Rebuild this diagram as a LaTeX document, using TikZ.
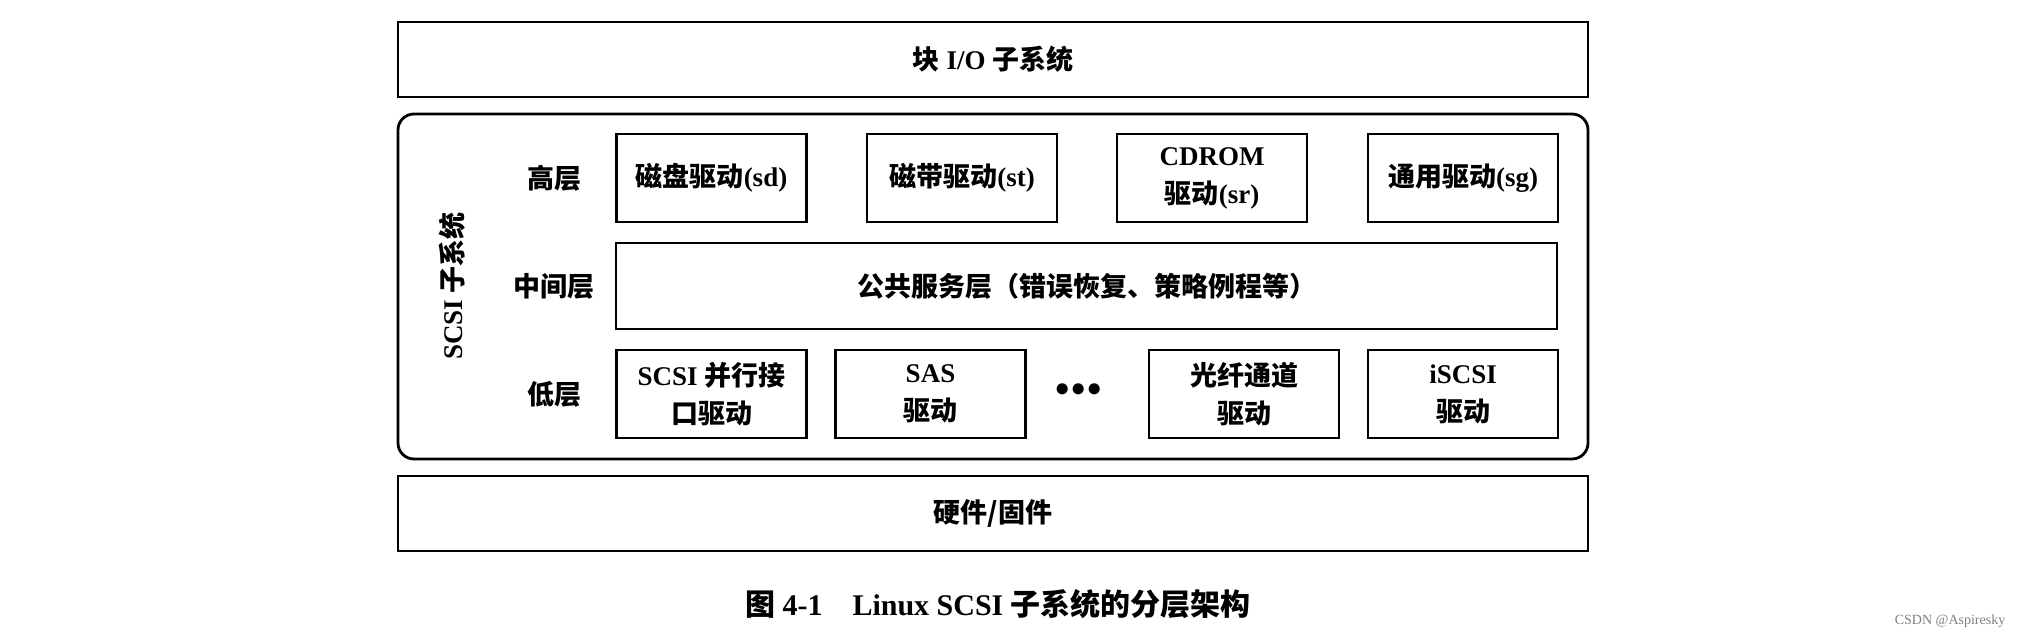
\documentclass[tikz,border=0pt]{standalone}
\usepackage{fontspec}
\setmainfont{Liberation Serif}
\newfontfamily\cjk{Noto Sans CJK SC}
\newcommand{\zh}[1]{{\cjk\bfseries #1}}
\begin{document}
\begin{tikzpicture}[x=0.5pt,y=-0.5pt,
  box/.style={draw=black,line width=1.4pt,inner sep=0pt,align=center,font=\fontsize{13.5}{19}\selectfont\bfseries},
  lbl/.style={font=\fontsize{13.5}{16}\selectfont\bfseries}]
\useasboundingbox (0,0) rectangle (2038,640);
\node[box,minimum width=1190*0.5pt,minimum height=75*0.5pt] (io) at (993,59.5) {\zh{块} I/O \zh{子系统}};
\node[draw=black,line width=1.4pt,rounded corners=8pt,minimum width=1190*0.5pt,minimum height=345*0.5pt,inner sep=0pt] (scsi) at (993,286.5) {};
\node[box,minimum width=1190*0.5pt,minimum height=75*0.5pt] (hw) at (993,513.5) {\zh{硬件/固件}};
\tikzset{sb/.style={box,minimum width=190*0.5pt,minimum height=88*0.5pt}}
\node[sb] (sd) at (711.5,178) {\zh{磁盘驱动}(sd)};
\node[sb] (st) at (962,178) {\zh{磁带驱动}(st)};
\node[sb] (sr) at (1212,178) {CDROM\\\zh{驱动}(sr)};
\node[sb] (sg) at (1463,178) {\zh{通用驱动}(sg)};
\node[box,minimum width=941*0.5pt,minimum height=86*0.5pt] (mid) at (1086.5,286) {\zh{公共服务层（错误恢复、策略例程等）}};
\node[sb] (spi) at (711.5,394) {SCSI \zh{并行接}\\\zh{口驱动}};
\node[sb] (sas) at (930.5,394) {SAS\\\zh{驱动}};
\node[lbl] (dots) at (1079,390) {$\bullet\!\bullet\!\bullet$};
\node[sb] (fc) at (1244,394) {\zh{光纤通道}\\\zh{驱动}};
\node[sb] (is) at (1463,394) {iSCSI\\\zh{驱动}};
\node[lbl] (hi) at (554,178) {\zh{高层}};
\node[lbl] (mi) at (554,286) {\zh{中间层}};
\node[lbl] (lo) at (554,394) {\zh{低层}};
\node[lbl,rotate=90] (sys) at (452,286) {SCSI \zh{子系统}};
\node[font=\fontsize{15}{18}\selectfont\bfseries] (cap) at (998,604) {\zh{图} 4-1\quad Linux SCSI \zh{子系统的分层架构}};
\node[text=gray,font=\fontsize{7}{8}\selectfont] (wm) at (1950,621) {CSDN @Aspiresky};
\end{tikzpicture}
\end{document}
